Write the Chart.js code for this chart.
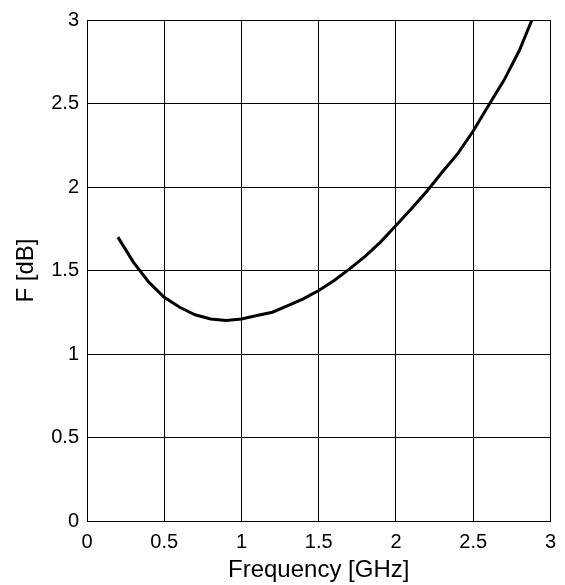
<!DOCTYPE html>
<html>
<head>
<meta charset="utf-8">
<script src="https://cdn.jsdelivr.net/npm/chart.js@4/dist/chart.umd.min.js"></script>
<style>
  html, body { margin: 0; padding: 0; background: #fff; }
  #wrap { width: 565px; height: 585px; position: relative; }
</style>
</head>
<body>
<div id="wrap"><canvas id="chNoise"></canvas></div>
<script>
// 频率 (GHz) 与噪声系数 F (dB)
const freq = [0.2, 0.3, 0.4, 0.5, 0.6, 0.7, 0.8, 0.9, 1.0, 1.1, 1.2, 1.3, 1.4, 1.5, 1.6, 1.7,
  1.8, 1.9, 2.0, 2.1, 2.2, 2.3, 2.4, 2.5, 2.6, 2.7, 2.8, 2.88];
const noiseFig = [1.70, 1.55, 1.43, 1.34, 1.28, 1.235, 1.21, 1.20, 1.21, 1.23, 1.25, 1.29, 1.33, 1.38, 1.44, 1.51,
  1.585, 1.67, 1.77, 1.87, 1.975, 2.09, 2.20, 2.335, 2.49, 2.64, 2.82, 3.0];
const xTicks = [0, 0.5, 1, 1.5, 2, 2.5, 3];
const yTicks = [0, 0.5, 1, 1.5, 2, 2.5, 3];

const FONT = '"Liberation Sans", Arial, Helvetica, sans-serif';

new Chart(document.getElementById('chNoise'), {
  type: 'line',
  data: {
    datasets: [{
      data: freq.map((f, i) => ({ x: f, y: noiseFig[i] })),
      borderColor: '#000',
      borderWidth: 3,
      pointRadius: 0,
      tension: 0,
      fill: false
    }]
  },
  options: {
    responsive: true, maintainAspectRatio: false, animation: false,
    layout: { padding: { top: 17, right: 13, left: 0, bottom: 0 } },
    plugins: { legend: { display: false }, tooltip: { enabled: false } },
    scales: {
      x: {
        type: 'linear', min: 0, max: 3,
        afterBuildTicks: s => { s.ticks = xTicks.map(v => ({ value: v })); },
        afterFit: s => { s.height = 64; },
        grid: { color: '#000', lineWidth: 1, drawTicks: false },
        border: { color: '#000', width: 1 },
        ticks: { color: '#000', padding: 9, font: { family: FONT, size: 20 }, maxRotation: 0, callback: v => String(v) },
        title: { display: true, text: 'Frequency [GHz]', color: '#000', padding: { top: 0, bottom: 0 }, font: { family: FONT, size: 24 } }
      },
      y: {
        type: 'linear', min: 0, max: 3,
        afterBuildTicks: s => { s.ticks = yTicks.map(v => ({ value: v })); },
        afterFit: s => { s.width = 87; },
        grid: { color: '#000', lineWidth: 1, drawTicks: false },
        border: { color: '#000', width: 1 },
        ticks: { color: '#000', padding: 8, font: { family: FONT, size: 20 }, callback: v => String(v) },
        title: { display: true, text: 'F [dB]', color: '#000', padding: { top: 12, bottom: 0 }, font: { family: FONT, size: 24 } }
      }
    }
  }
});
</script>
</body>
</html>
